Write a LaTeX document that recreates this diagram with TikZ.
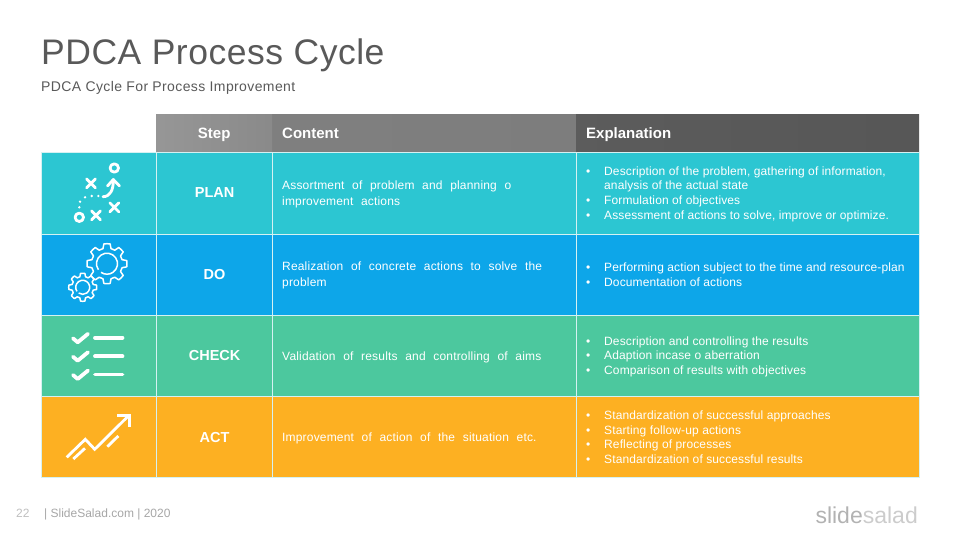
\documentclass[tikz,border=0pt]{standalone}
\usepackage{fontspec}
\setmainfont{Liberation Sans}
\newfontfamily\titlefont[LetterSpace=1.5]{Liberation Sans}
\newfontfamily\subfont[LetterSpace=2.8]{Liberation Sans}
\newfontfamily\bodyfont[LetterSpace=1.5]{Liberation Sans}
\newfontfamily\listfont[LetterSpace=1]{Liberation Sans}
\usetikzlibrary{calc}
\definecolor{plancol}{HTML}{2CC6D2}
\definecolor{docol}{HTML}{0DA6E9}
\definecolor{checkcol}{HTML}{4CC89E}
\definecolor{actcol}{HTML}{FDB022}
\definecolor{gridcol}{HTML}{D5F1F2}
\newcommand{\bul}{\makebox[18pt][l]{\textbullet}}
\newcommand{\widewords}{\spaceskip=7.7pt\relax}
\newcommand{\gearicon}[3]{% centre, outer radius, hole radius
  \draw[iconline] #1 ++(0:#2) \foreach \a in {0,45,...,315} {
    -- ($#1+(\a+9:#2)$) -- ($#1+(\a+15:#2*0.78)$) -- ($#1+(\a+30:#2*0.78)$) -- ($#1+(\a+36:#2)$) -- ($#1+(\a+45:#2)$)
  } -- cycle;
  \draw[iconline] #1 ++(145:#3) arc[start angle=145, delta angle=340, radius=#3];
}
\tikzset{
  headcell/.style={anchor=north west, inner sep=0pt, minimum height=38pt, text height=11pt, text depth=1pt, text=white, font=\fontsize{15}{18}\selectfont\bfseries},
  cell/.style={anchor=north west, inner sep=0pt, draw=gridcol, line width=1.2pt, text=white, fill=#1},
  steplabel/.style={text=white, font=\fontsize{14.5}{18}\selectfont\bfseries},
  bodytext/.style={anchor=west, inner sep=0pt, align=left, text=white, font=\bodyfont\fontsize{12}{16}\selectfont, execute at begin node=\widewords},
  listtext/.style={anchor=west, inner sep=0pt, align=left, text=white, font=\listfont\fontsize{12}{14.6}\selectfont},
  iconline/.style={draw=white, line width=1.5pt, line join=round},
  iconbold/.style={draw=white, line width=2.8pt, line cap=round, line join=round},
  iconcheck/.style={draw=white, line width=3.8pt, line cap=round, line join=round},
}
\begin{document}
\begin{tikzpicture}[x=1pt, y=-1pt]
  \useasboundingbox (0,0) rectangle (960,540);

  % title
  \node[anchor=west, inner sep=0pt, text=black!65, font=\titlefont\fontsize{35.5}{40}\selectfont] (title) at (41,55) {PDCA Process Cycle};
  \node[anchor=west, inner sep=0pt, text=black!65, font=\subfont\fontsize{14}{16}\selectfont] (subtitle) at (41,88) {PDCA Cycle For Process Improvement};

  % header
  \node[headcell, minimum width=116pt, left color=black!41, right color=black!46] (headstep) at (156,114) {Step};
  \node[headcell, minimum width=304pt, left color=black!50, right color=black!51, text width=284pt, align=left] (headcontent) at (272,114) {Content};
  \node[headcell, minimum width=343pt, left color=black!64, right color=black!66, text width=323pt, align=left] (headexpl) at (576,114) {Explanation};

  % rows
  \foreach \name/\col/\y/\h in {plan/plancol/152/82, do/docol/234/81, check/checkcol/315/81, act/actcol/396/81} {
    \node[cell=\col, minimum width=115pt, minimum height=\h pt] (\name icon) at (41,\y) {};
    \node[cell=\col, minimum width=116pt, minimum height=\h pt] (\name step) at (156,\y) {};
    \node[cell=\col, minimum width=304pt, minimum height=\h pt] (\name content) at (272,\y) {};
    \node[cell=\col, minimum width=343pt, minimum height=\h pt] (\name expl) at (576,\y) {};
  }

  \node[steplabel, yshift=1pt] (plantext) at (planstep.center) {PLAN};
  \node[steplabel, yshift=1pt] (dotext) at (dostep.center) {DO};
  \node[steplabel, yshift=1pt] (checktext) at (checkstep.center) {CHECK};
  \node[steplabel] (acttext) at (actstep.center) {ACT};

  \node[bodytext] (planbody) at (282,194) {Assortment of problem and planning o\\improvement actions};
  \node[bodytext] (dobody) at (282,275) {Realization of concrete actions to solve the\\problem};
  \node[bodytext] (checkbody) at (282,357) {Validation of results and controlling of aims};
  \node[bodytext] (actbody) at (282,438) {Improvement of action of the situation etc.};

  \node[listtext] (planlist) at (586,194) {\bul Description of the problem, gathering of information,\\\hspace*{18pt}analysis of the actual state\\\bul Formulation of objectives\\\bul Assessment of actions to solve, improve or optimize.};
  \node[listtext] (dolist) at (586,275) {\bul Performing action subject to the time and resource-plan\\\bul Documentation of actions};
  \node[listtext] (checklist) at (586,356.5) {\bul Description and controlling the results\\\bul Adaption incase o aberration\\\bul Comparison of results with objectives};
  \node[listtext] (actlist) at (586,437.2) {\bul Standardization of successful approaches\\\bul Starting follow-up actions\\\bul Reflecting of processes\\\bul Standardization of successful results};

  % plan icon
  \draw[iconbold] (114.3,168) circle (4.2);
  \draw[iconbold] (79.3,217.3) circle (4.2);
  \foreach \cx/\cy in {91/183.3, 96/215.3, 114.3/207.3} {
    \draw[iconbold] (\cx-4.5,\cy-4.5) -- (\cx+4.5,\cy+4.5) (\cx-4.5,\cy+4.5) -- (\cx+4.5,\cy-4.5);
  }
  \draw[iconbold] (103,196.7) .. controls (110,196.7) and (113.3,190) .. (113.3,181);
  \draw[iconbold] (107.5,186) -- (113.3,179.5) -- (119.5,186);
  \foreach \dx/\dy in {98.3/196, 91.7/196, 85/197.3, 80/201.7, 79.3/207.3} {
    \fill[white] (\dx,\dy) circle (1.3);
  }

  % do icon
  \gearicon{(107,263.7)}{20}{10.5}
  \gearicon{(82.7,287.3)}{14}{7}

  % check icon
  \foreach \cy in {338.3, 356.7, 375} {
    \draw[iconcheck] (73,\cy) -- (77.7,\cy+4) -- (88,\cy-4.5);
    \draw[iconcheck] (95,\cy-0.5) -- (122.5,\cy-0.5);
  }

  % act icon
  \draw[iconbold, line cap=butt, line join=miter] (66.7,457.3) -- (85.3,439.3) -- (94.7,449.3) -- (128.3,416);
  \draw[iconbold, line cap=butt, line join=miter] (117.3,415.3) -- (129.3,415.3) -- (129.3,426.7);
  \draw[iconbold, line cap=butt] (73.3,459) -- (85,448.3) (107.3,446.7) -- (118.3,436);

  % footer
  \node[anchor=west, inner sep=0pt, text=black!25, font=\fontsize{12}{14}\selectfont] (pagenum) at (16,513.5) {22};
  \node[anchor=west, inner sep=0pt, text=black!35, font=\fontsize{12}{14}\selectfont] (footer) at (44,514.5) {| SlideSalad.com | 2020};
  \node[anchor=east, inner sep=0pt, font=\fontsize{23}{28}\selectfont] (logo) at (918,515) {\textcolor{black!30}{slide}\textcolor{black!20}{salad}};
\end{tikzpicture}
\end{document}
